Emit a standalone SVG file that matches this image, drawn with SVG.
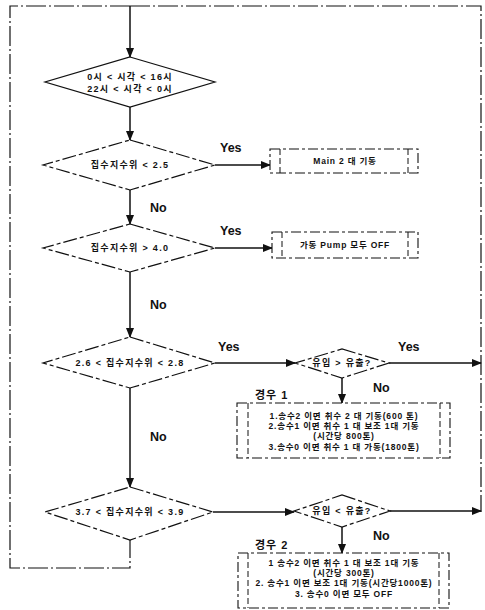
<svg xmlns="http://www.w3.org/2000/svg" width="485" height="610" viewBox="0 0 485 610">
<style>
text{font-family:"Liberation Sans","Noto Sans CJK KR",sans-serif;fill:#111;}
.t{font-size:9px;font-weight:bold;text-anchor:middle;letter-spacing:1.3px;}
.b{font-size:8.5px;font-weight:bold;text-anchor:middle;letter-spacing:0.8px;}
.l{font-size:12.5px;font-weight:bold;}
.c{font-size:11px;font-weight:bold;letter-spacing:1px;}
.d{fill:#fff;stroke:#111;stroke-width:1.2;}
.dd{fill:#fff;stroke:#111;stroke-width:1.2;stroke-dasharray:14 3 4 3;}
.bx{fill:#fff;stroke:#111;stroke-width:1.1;stroke-dasharray:10 3 3 3;}
.in{stroke:#111;stroke-width:1;stroke-dasharray:6 3;}
.w{fill:none;stroke:#111;stroke-width:1.5;}
.lp{fill:none;stroke:#111;stroke-width:1.2;stroke-dasharray:20 3 2 3;}
</style>
<defs>
<marker id="ah" markerWidth="10" markerHeight="8" refX="9" refY="4" orient="auto" markerUnits="userSpaceOnUse">
<path d="M0,0 L10,4 L0,8 Z" fill="#111"/>
</marker>
</defs>
<g id="connectors">
<polyline class="lp" points="130,6 481,6 481,512"/>
<polyline class="lp" points="130,6 10,6 10,568 130,568 130,540"/>
<line class="w" x1="130" y1="6" x2="130" y2="57" marker-end="url(#ah)"/>
<line class="w" x1="130" y1="107" x2="130" y2="140" marker-end="url(#ah)"/>
<line class="w" x1="130" y1="190" x2="130" y2="224" marker-end="url(#ah)"/>
<line class="w" x1="130" y1="272" x2="130" y2="337" marker-end="url(#ah)"/>
<line class="w" x1="130" y1="388" x2="130" y2="487" marker-end="url(#ah)"/>
<line class="w" x1="215" y1="165" x2="270" y2="165" marker-end="url(#ah)"/>
<line class="w" x1="215" y1="248" x2="272" y2="248" marker-end="url(#ah)"/>
<line class="w" x1="215" y1="363" x2="295" y2="363" marker-end="url(#ah)"/>
<line class="w" x1="389" y1="363" x2="481" y2="363" marker-end="url(#ah)"/>
<line class="w" x1="342" y1="378" x2="342" y2="403" marker-end="url(#ah)"/>
<line class="w" x1="213" y1="512" x2="294" y2="512" marker-end="url(#ah)"/>
<line class="w" x1="390" y1="511" x2="481" y2="511" marker-end="url(#ah)"/>
<line class="w" x1="342" y1="527" x2="342" y2="553" marker-end="url(#ah)"/>
<text class="l" x="220" y="152">Yes</text>
<text class="l" x="220" y="235">Yes</text>
<text class="l" x="218" y="351">Yes</text>
<text class="l" x="398" y="351">Yes</text>
<text class="l" x="150" y="212">No</text>
<text class="l" x="150" y="309">No</text>
<text class="l" x="150" y="441">No</text>
<text class="l" x="373" y="392">No</text>
<text class="l" x="373" y="540">No</text>
</g>
<g id="d1">
<polygon class="d" points="130,57 215,82 130,107 45,82"/>
<text class="t" x="130" y="80">0시 &lt; 시각 &lt; 16시</text>
<text class="t" x="130" y="92">22시 &lt; 시각 &lt; 0시</text>
</g>
<g id="d2">
<polygon class="dd" points="130,140 215,165 130,190 43,165"/>
<text class="t" x="130" y="168">집수지수위 &lt; 2.5</text>
</g>
<g id="box1">
<rect class="bx" x="270" y="149" width="148" height="24"/>
<line class="in" x1="280" y1="149" x2="280" y2="173"/>
<line class="in" x1="408" y1="149" x2="408" y2="173"/>
<text class="b" x="345" y="164">Main 2 대 기동</text>
</g>
<g id="d3">
<polygon class="dd" points="130,224 215,248 130,272 43,248"/>
<text class="t" x="130" y="251">집수지수위 &gt; 4.0</text>
</g>
<g id="box2">
<rect class="bx" x="272" y="232" width="146" height="26"/>
<line class="in" x1="282" y1="232" x2="282" y2="258"/>
<line class="in" x1="408" y1="232" x2="408" y2="258"/>
<text class="b" x="345" y="248">가동 Pump 모두 OFF</text>
</g>
<g id="d4">
<polygon class="dd" points="130,337 215,363 130,388 43,363"/>
<text class="t" x="130" y="366">2.6 &lt; 집수지수위 &lt; 2.8</text>
</g>
<g id="d5">
<polygon class="dd" points="342,349 389,363 342,378 295,363"/>
<text class="t" x="342" y="366">유입 &gt; 유출?</text>
</g>
<g id="case1">
<text class="c" x="255" y="399">경우 1</text>
<rect class="bx" x="237" y="403" width="213" height="55"/>
<line class="in" x1="248" y1="403" x2="248" y2="458"/>
<line class="in" x1="440" y1="403" x2="440" y2="458"/>
<text class="b" x="344" y="419">1.송수2 이면 취수  2 대 기동(600 톤)</text>
<text class="b" x="344" y="429">2.송수1 이면 취수  1 대 보조 1대 기동</text>
<text class="b" x="344" y="439">(시간당 800톤)</text>
<text class="b" x="344" y="450">3.송수0 이면 취수  1 대 가동(1800톤)</text>
</g>
<g id="d6">
<polygon class="dd" points="130,487 213,512 130,540 45,512"/>
<text class="t" x="130" y="515">3.7 &lt; 집수지수위 &lt; 3.9</text>
</g>
<g id="d7">
<polygon class="dd" points="342,495 390,511 342,527 294,511"/>
<text class="t" x="342" y="514">유입 &lt; 유출?</text>
</g>
<g id="case2">
<text class="c" x="255" y="549">경우 2</text>
<rect class="bx" x="238" y="553" width="211" height="55"/>
<line class="in" x1="248" y1="553" x2="248" y2="608"/>
<line class="in" x1="439" y1="553" x2="439" y2="608"/>
<text class="b" x="344" y="566">1 송수2 이면 취수  1 대 보조 1대 기동</text>
<text class="b" x="344" y="576">(시간당 300톤)</text>
<text class="b" x="344" y="586">2. 송수1 이면 보조 1대 기동(시간당1000톤)</text>
<text class="b" x="344" y="597">3. 송수0 이면 모두 OFF</text>
</g>
</svg>
